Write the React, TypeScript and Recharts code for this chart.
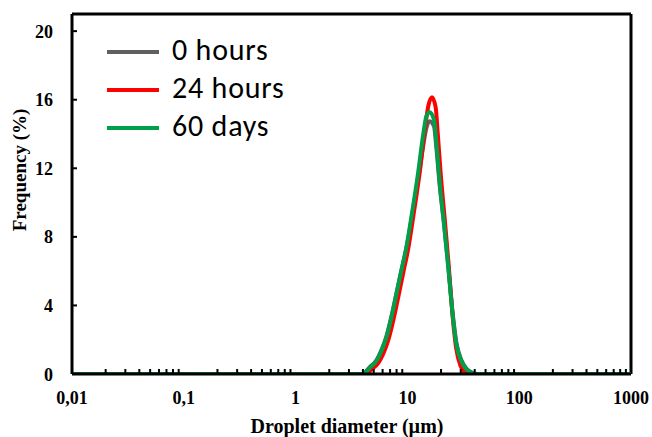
import React from 'react';
import { LineChart, Line, XAxis, YAxis, Legend, ReferenceLine } from 'recharts';

// Droplet size distributions (diameter in µm, frequency in %)
const sizes0h = [0.01, 3.95, 4.6, 5.28, 5.86, 6.49, 7.19, 7.98, 8.84, 9.8, 10.86, 12.45, 13.77, 14.79, 15.82, 17.29, 18.16, 19.45, 21.24, 23.07, 25.55, 27.4, 30.38, 33.66, 37.33, 42.0, 1000];
const freq0h = [0, 0, 0.4, 0.8, 1.4, 2.2, 3.35, 4.72, 6.05, 7.35, 9.0, 11.3, 13.2, 14.35, 14.75, 14.45, 13.2, 11.0, 8.75, 6.45, 3.4, 1.85, 0.82, 0.32, 0.1, 0, 0];

const sizes24h = [0.01, 4.25, 4.85, 5.5, 6.1, 6.76, 7.49, 8.32, 9.21, 10.2, 11.3, 12.97, 14.35, 15.4, 16.6, 17.9, 18.7, 19.9, 21.6, 23.3, 25.6, 27.3, 30.0, 32.5, 34.5, 1000];
const freq24h = [0, 0, 0.3, 0.65, 1.2, 2.0, 3.15, 4.55, 5.95, 7.35, 9.2, 11.9, 14.3, 15.65, 16.15, 15.55, 14.0, 11.6, 9.0, 6.5, 3.1, 1.5, 0.45, 0.1, 0, 0];

const sizes60d = [0.01, 4.01, 4.6, 5.28, 5.86, 6.49, 7.19, 7.98, 8.84, 9.8, 10.86, 12.45, 13.77, 14.79, 15.82, 17.29, 18.16, 19.45, 21.24, 23.07, 25.55, 27.4, 30.38, 33.66, 37.33, 41.4, 1000];
const freq60d = [0, 0, 0.37, 0.76, 1.35, 2.13, 3.3, 4.67, 6.04, 7.4, 9.17, 11.71, 13.86, 15.03, 15.27, 14.84, 13.49, 11.14, 8.8, 6.4, 3.3, 1.74, 0.76, 0.28, 0.08, 0, 0];

const seriesNames = ['0 hours', '24 hours', '60 days'];
const seriesColors = ['#606060', '#ff0000', '#00a04b'];

// Log axis: decades are labelled, 2–9 multiples get small inward marks
const xTicks = [
  0.01, 0.02, 0.03, 0.04, 0.05, 0.06, 0.07, 0.08, 0.09,
  0.1, 0.2, 0.3, 0.4, 0.5, 0.6, 0.7, 0.8, 0.9,
  1, 2, 3, 4, 5, 6, 7, 8, 9,
  10, 20, 30, 40, 50, 60, 70, 80, 90,
  100, 200, 300, 400, 500, 600, 700, 800, 900,
  1000,
];
const decadeValues = [0.01, 0.1, 1, 10, 100, 1000];
const decadeLabels = ['0,01', '0,1', '1', '10', '100', '1000'];
const yTicks = [0, 4, 8, 12, 16, 20];

const toPoints = (sizes: number[], freqs: number[]) =>
  sizes.map((d, i) => ({ d, f: freqs[i] }));

const data0h = toPoints(sizes0h, freq0h);
const data24h = toPoints(sizes24h, freq24h);
const data60d = toPoints(sizes60d, freq60d);

const serif = '"Times New Roman", "Liberation Serif", serif';

const XTick = (props: any) => {
  const { x, y, payload } = props;
  const idx = decadeValues.indexOf(payload.value);
  if (idx >= 0) {
    return (
      <text x={x} y={y + 30} textAnchor="middle" fontFamily={serif} fontWeight="bold" fontSize={18} fill="#000">
        {decadeLabels[idx]}
      </text>
    );
  }
  return <line x1={x} y1={y} x2={x} y2={y - 5} stroke="#000" strokeWidth={2} />;
};

const YTick = (props: any) => {
  const { x, y, payload } = props;
  return (
    <g>
      <line x1={x} y1={y} x2={x + 5} y2={y} stroke="#000" strokeWidth={2} />
      <text x={x - 19} y={y + 6.5} textAnchor="end" fontFamily={serif} fontWeight="bold" fontSize={18} fill="#000">
        {payload.value}
      </text>
    </g>
  );
};

const XTitle = () => (
  <text x={347} y={433} textAnchor="middle" fontFamily={serif} fontWeight="bold" fontSize={20} fill="#000">
    Droplet diameter (µm)
  </text>
);

const YTitle = () => (
  <text x={26} y={170} transform="rotate(-90 26 170)" textAnchor="middle" fontFamily={serif} fontWeight="bold" fontSize={19} fill="#000">
    Frequency (%)
  </text>
);

const LegendBox = () => (
  <div style={{ fontFamily: 'Calibri, Carlito, Lato, sans-serif', fontSize: 30, letterSpacing: '0.8px', color: '#000' }}>
    {seriesNames.map((name, i) => (
      <div key={name} style={{ display: 'flex', alignItems: 'center', height: 38 }}>
        <div style={{ width: 52, height: 4, background: seriesColors[i] }} />
        <span style={{ marginLeft: 13, lineHeight: '38px', position: 'relative', top: -2, whiteSpace: 'nowrap' }}>{name}</span>
      </div>
    ))}
  </div>
);

export default function App() {
  return (
    <div style={{ position: 'absolute', left: 0, top: 0, background: '#fff' }}>
      <LineChart width={652} height={437} margin={{ top: 14, right: 21, bottom: 0, left: 0 }}>
        <XAxis
          dataKey="d"
          type="number"
          scale="log"
          domain={[0.01, 1000]}
          ticks={xTicks}
          interval={0}
          height={63}
          tickSize={0}
          tickMargin={0}
          tickLine={false}
          tick={<XTick />}
          axisLine={{ stroke: '#000', strokeWidth: 3 }}
          label={<XTitle />}
          allowDataOverflow
        />
        <YAxis
          type="number"
          domain={[0, 21]}
          ticks={yTicks}
          interval={0}
          width={72}
          tickSize={0}
          tickMargin={0}
          tickLine={false}
          tick={<YTick />}
          axisLine={{ stroke: '#000', strokeWidth: 3 }}
          label={<YTitle />}
          allowDataOverflow
        />
        <ReferenceLine y={21} stroke="#000" strokeWidth={3} />
        <ReferenceLine x={1000} stroke="#000" strokeWidth={3} />
        <Legend
          layout="vertical"
          align="center"
          verticalAlign="middle"
          content={<LegendBox />}
          wrapperStyle={{ left: 107, top: 33, width: 'auto' }}
        />
        <Line data={data0h} dataKey="f" name={seriesNames[0]} type="monotone" stroke={seriesColors[0]} strokeWidth={4} dot={false} isAnimationActive={false} />
        <Line data={data24h} dataKey="f" name={seriesNames[1]} type="monotone" stroke={seriesColors[1]} strokeWidth={4} dot={false} isAnimationActive={false} />
        <Line data={data60d} dataKey="f" name={seriesNames[2]} type="monotone" stroke={seriesColors[2]} strokeWidth={4} dot={false} isAnimationActive={false} />
      </LineChart>
    </div>
  );
}
